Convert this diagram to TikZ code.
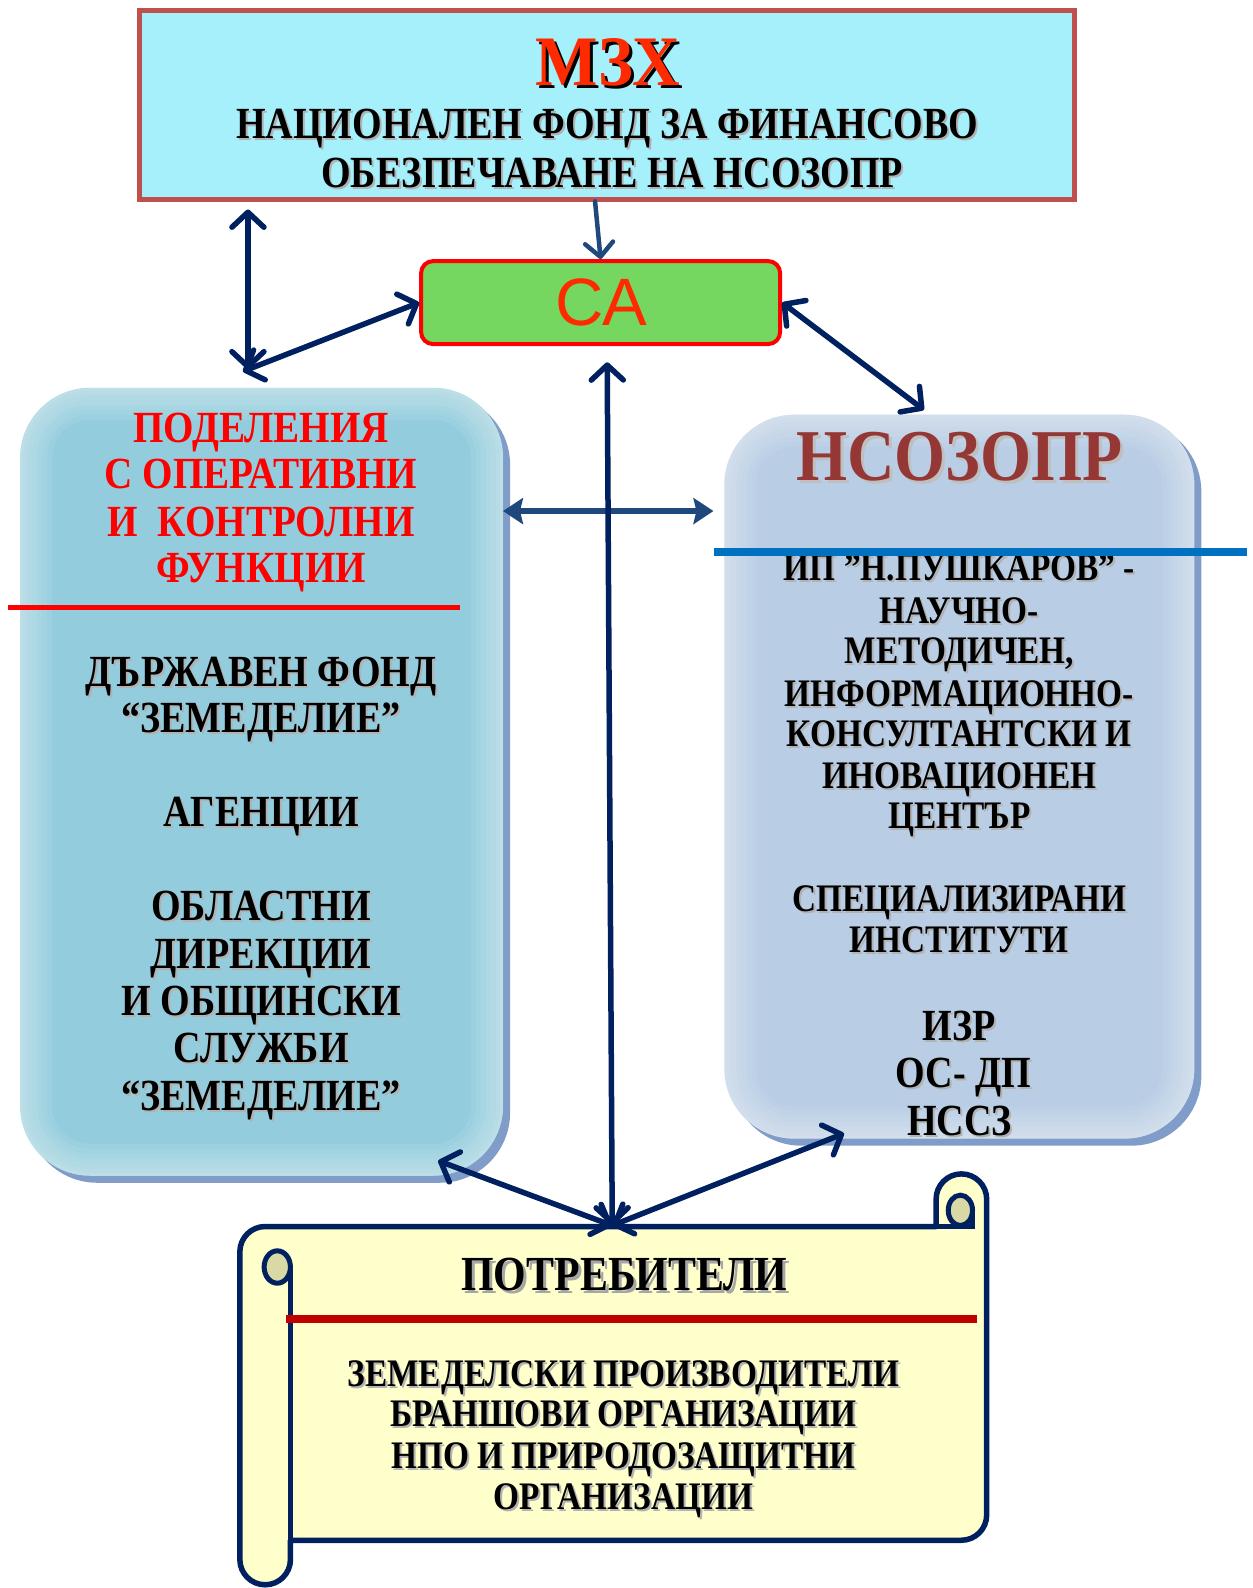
\documentclass[tikz,border=0pt]{standalone}
\usepackage{fontspec}
\setmainfont{Liberation Serif}
\newfontfamily\cond[FakeStretch=0.855]{Liberation Serif}
\newfontfamily\condr[FakeStretch=0.88]{Liberation Serif}
\newfontfamily\condm[FakeStretch=0.93]{Liberation Serif}
\newfontfamily\condn[FakeStretch=0.90]{Liberation Serif}
\newfontfamily\sansf{Liberation Sans}
\usetikzlibrary{arrows.meta,shadows}
\definecolor{navy}{HTML}{002060}
\definecolor{steel}{HTML}{1F497D}
\definecolor{topfill}{HTML}{A5F0FB}
\definecolor{topborder}{HTML}{C0504D}
\definecolor{cagreen}{HTML}{75D660}
\definecolor{catext}{HTML}{FF2A00}
\definecolor{leftfill}{HTML}{93CDDD}
\definecolor{rightfill}{HTML}{B9CDE5}
\definecolor{shblue}{HTML}{7F9DC8}
\definecolor{nsored}{HTML}{953735}
\definecolor{scrollfill}{HTML}{FFFFCC}
\definecolor{curlfill}{HTML}{D9D9A6}
\definecolor{linered}{HTML}{C00000}
\definecolor{lineblue}{HTML}{0070C0}
\definecolor{brightred}{HTML}{FF0000}
\newcommand\shtxt[3]{\leavevmode\rlap{\hspace*{#1}\raisebox{-#1}{\textcolor{#2}{#3}}}#3}
\newcommand\bl[1]{\shtxt{2pt}{black!30}{#1}}
\tikzset{
  txt/.style={inner sep=0pt, anchor=base},
  fs/.style={font=\cond\bfseries\fontsize{#1}{#1}\selectfont},
  glow/.style={path picture={
      \foreach \w in {64,54,44,34,24,14,6}
        \draw[white, opacity=0.07, line width=\w pt, rounded corners=70pt]
          (path picture bounding box.south west) rectangle (path picture bounding box.north east);}},
  softbox/.style={rounded corners=70pt, inner sep=0pt, glow,
      drop shadow={shadow xshift=7pt, shadow yshift=-7pt, fill=shblue, opacity=1}},
  arr/.style={draw=navy, line width=5.5pt, line cap=round, line join=round},
  dbl/.style={arr, {Straight Barb[length=15pt,width=32pt,line cap=round,line join=round]}-{Straight Barb[length=15pt,width=32pt,line cap=round,line join=round]}},
  sgl/.style={arr, draw=steel, line width=4.5pt, -{Straight Barb[length=14pt,width=28pt,line cap=round,line join=round]}},
  hdbl/.style={draw=steel, line width=5.5pt, {Stealth[length=20pt,width=26pt,inset=3pt]}-{Stealth[length=20pt,width=26pt,inset=3pt]}},
}
\begin{document}
\begin{tikzpicture}[x=1.012pt,y=-1.012pt]
\useasboundingbox (0,0) rectangle (1238.1,1569.2);

% ---------- top box
\node[draw=topborder, line width=5pt, fill=topfill, minimum width=935pt, minimum height=189pt, inner sep=0pt] (mzx) at (600,103.5) {};
\node[txt, font=\condm\bfseries\fontsize{71}{71}\selectfont, text=catext] (mzxt) at (601,84) {\shtxt{3pt}{black}{МЗХ}};
\node[txt, fs=44.5] (mzx1) at (600,137) {\bl{НАЦИОНАЛЕН ФОНД ЗА ФИНАНСОВО}};
\node[txt, fs=44.5] (mzx2) at (605,185) {\bl{ОБЕЗПЕЧАВАНЕ НА НСОЗОПР}};

% ---------- CA box
\node[draw=brightred, line width=4pt, fill=cagreen, rounded corners=12pt, minimum width=359pt, minimum height=83pt, inner sep=0pt] (ca) at (593.5,299) {};
\node[txt, font=\sansf\fontsize{67}{67}\selectfont, text=catext] (cat) at (594,322) {СА};

% ---------- left box
\node[softbox, fill=leftfill, minimum width=483pt, minimum height=788pt] (pod) at (258.5,772.5) {};
\draw[brightred, line width=5pt] (8,600) -- (455,600);
\begin{scope}[every node/.style={txt, font=\condr\bfseries\fontsize{44.5}{44.5}\selectfont, text=brightred}]
\node (p1) at (258,437) {ПОДЕЛЕНИЯ};
\node (p2) at (258,483) {С ОПЕРАТИВНИ};
\node (p3) at (258,530) {И\ \ КОНТРОЛНИ};
\node (p4) at (258,576) {ФУНКЦИИ};
\end{scope}
\begin{scope}[every node/.style={txt, fs=44.5}]
\node (l1) at (258,678) {\bl{ДЪРЖАВЕН ФОНД}};
\node (l2) at (258,724) {\bl{“ЗЕМЕДЕЛИЕ”}};
\node (l3) at (258,817) {\bl{АГЕНЦИИ}};
\node (l4) at (258,910) {\bl{ОБЛАСТНИ}};
\node (l5) at (258,957) {\bl{ДИРЕКЦИИ}};
\node (l6) at (258,1003) {\bl{И ОБЩИНСКИ}};
\node (l7) at (258,1050) {\bl{СЛУЖБИ}};
\node (l8) at (258,1097) {\bl{“ЗЕМЕДЕЛИЕ”}};
\end{scope}

% ---------- right box
\node[softbox, fill=rightfill, minimum width=470pt, minimum height=724pt] (nso) at (948,767.5) {};
\node[txt, font=\condn\bfseries\fontsize{73}{73}\selectfont, text=nsored] (nsot) at (948,475) {\shtxt{3pt}{black!25}{НСОЗОПР}};
\begin{scope}[every node/.style={txt, fs=39}]
\node (r1) at (948,574) {\bl{ИП ”Н.ПУШКАРОВ” -}};
\node (r2) at (948,616) {\bl{НАУЧНО-}};
\node (r3) at (948,656) {\bl{МЕТОДИЧЕН,}};
\node (r4) at (948,698) {\bl{ИНФОРМАЦИОННО-}};
\node (r5) at (948,738) {\bl{КОНСУЛТАНТСКИ И}};
\node (r6) at (948,779) {\bl{ИНОВАЦИОНЕН}};
\node (r7) at (948,819) {\bl{ЦЕНТЪР}};
\node (r8) at (948,901) {\bl{СПЕЦИАЛИЗИРАНИ}};
\node (r9) at (948,941) {\bl{ИНСТИТУТИ}};
\end{scope}
\begin{scope}[every node/.style={txt, fs=44.5}]
\node (r10) at (948,1028) {\bl{ИЗР}};
\node (r11) at (952,1075) {\bl{ОС- ДП}};
\node (r12) at (948,1122) {\bl{НССЗ}};
\end{scope}
\draw[lineblue, line width=8pt] (706,545) -- (1232,545);

% ---------- scroll
\draw[navy, line width=5.5pt, fill=scrollfill, line join=round]
  (262,1212) -- (925,1212) -- (925,1185)
  arc[start angle=180, end angle=360, radius=25]
  -- (975,1497) arc[start angle=0, end angle=90, radius=25]
  -- (287,1522) -- (287,1541) arc[start angle=0, end angle=180, radius=25]
  -- (237,1237) arc[start angle=180, end angle=270, radius=25] -- cycle;
\draw[navy, line width=5pt, fill=curlfill] (274,1252) ellipse[x radius=13, y radius=16];
\draw[navy, line width=5.5pt] (287,1252) -- (287,1522);
\draw[navy, line width=5pt, fill=curlfill] (949,1196) ellipse[x radius=12, y radius=15];
\draw[navy, line width=5pt] (925,1212) -- (961,1212) -- (961,1196);
\draw[linered, line width=8pt] (283,1303) -- (965,1303);
\node[txt, font=\cond\bfseries\fontsize{49}{49}\selectfont] (pt) at (617,1275) {\shtxt{3pt}{black!35}{ПОТРЕБИТЕЛИ}};
\begin{scope}[every node/.style={txt, fs=39}]
\node (s1) at (616,1370) {\bl{ЗЕМЕДЕЛСКИ ПРОИЗВОДИТЕЛИ}};
\node (s2) at (616,1410) {\bl{БРАНШОВИ ОРГАНИЗАЦИИ}};
\node (s3) at (616,1451) {\bl{НПО И ПРИРОДОЗАЩИТНИ}};
\node (s4) at (616,1492) {\bl{ОРГАНИЗАЦИИ}};
\end{scope}

% ---------- connector end points
\coordinate (mzxa) at (245,207);
\coordinate (mzxs) at (588,199);
\coordinate (ptl) at (245,365);
\coordinate (ptl2) at (240,367);
\coordinate (nsotop) at (913,405);
\coordinate (cab) at (600,358);
\coordinate (scrolltop) at (605,1211);
\coordinate (podbr) at (433,1147);
\coordinate (nsobl) at (834,1120);
\coordinate (hl) at (497,505);
\coordinate (hr) at (705,505);

% ---------- connectors
\draw[dbl] (mzxa) -- (ptl);
\draw[dbl] (ptl2) -- (ca.west);
\draw[sgl] (mzxs) -- (ca.north);
\draw[dbl] (ca.east) -- (nsotop);
\draw[hdbl] (hl) -- (hr);
\draw[dbl] (cab) -- (scrolltop);
\draw[dbl] (podbr) -- (scrolltop);
\draw[dbl] (scrolltop) -- (nsobl);
\end{tikzpicture}
\end{document}
